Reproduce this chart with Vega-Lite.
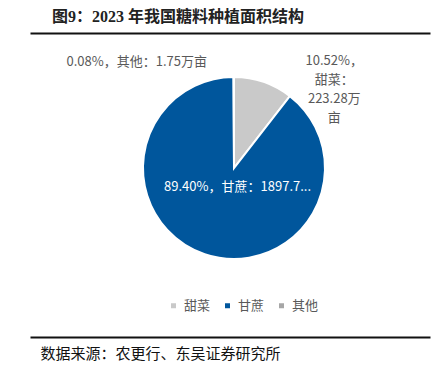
{
  "$schema": "https://vega.github.io/schema/vega-lite/v6.json",
  "width": 408,
  "height": 270,
  "autosize": {"type": "none"},
  "padding": {"left": 30, "top": 33, "right": 0, "bottom": 67},
  "background": "white",
  "config": {"view": {"stroke": null}, "text": {"lineBreak": "\n"}},
  "title": {
    "text": "图9：2023 年我国糖料种植面积结构",
    "anchor": "start",
    "frame": "group",
    "dx": 22,
    "offset": 8,
    "fontSize": 16,
    "fontWeight": "bold",
    "font": "Liberation Serif, Noto Sans CJK SC",
    "color": "#222222"
  },
  "data": {
    "values": [
      {"cat": "甜菜", "rank": 1, "value": 223.28, "label": "10.52%，\n甜菜：\n223.28万\n亩"},
      {"cat": "甘蔗", "rank": 2, "value": 1897.72, "label": "89.40%，甘蔗：1897.7..."},
      {"cat": "其他", "rank": 3, "value": 1.75, "label": "0.08%，其他：1.75万亩"}
    ]
  },
  "layer": [
    {
      "mark": {"type": "point", "opacity": 0},
      "encoding": {
        "x": {
          "field": "value", "type": "quantitative",
          "scale": {"range": [0, 400]},
          "axis": {"orient": "top", "labels": false, "ticks": false, "grid": false, "title": null, "domainColor": "#111111", "domainWidth": 2}
        }
      }
    },
    {
      "mark": {"type": "point", "opacity": 0},
      "encoding": {
        "x": {
          "field": "value", "type": "quantitative",
          "scale": {"range": [0, 400]},
          "axis": {
            "orient": "bottom", "offset": 34, "labels": false, "ticks": false, "grid": false,
            "domainColor": "#111111", "domainWidth": 2,
            "title": "数据来源：农更行、东吴证券研究所",
            "titleX": 10, "titleY": 16, "titleAlign": "left", "titleBaseline": "middle",
            "titleFont": "Noto Sans CJK SC", "titleFontSize": 15, "titleFontWeight": "normal", "titleColor": "#111111"
          }
        }
      }
    },
    {
      "mark": {"type": "arc", "outerRadius": 91, "stroke": "white", "strokeWidth": 2},
      "encoding": {
        "theta": {"field": "value", "type": "quantitative", "stack": true},
        "order": {"field": "rank", "type": "quantitative"},
        "color": {
          "field": "cat", "type": "nominal",
          "sort": ["甜菜", "甘蔗", "其他"],
          "scale": {"domain": ["甜菜", "甘蔗", "其他"], "range": ["#C9C9C9", "#00569C", "#A6A6A6"]},
          "legend": {
            "title": null, "orient": "none", "direction": "horizontal",
            "legendX": 137, "legendY": 266, "padding": 0,
            "symbolType": "square", "symbolSize": 25, "symbolStrokeWidth": 0,
            "labelFont": "Noto Sans CJK SC", "labelFontSize": 13, "labelColor": "#595959",
            "labelOffset": 4, "columnPadding": 10
          }
        }
      }
    },
    {
      "mark": {"type": "text", "radius": 84, "dx": 73, "dy": -28, "align": "center", "baseline": "middle", "lineHeight": 19, "font": "Noto Sans CJK SC", "fontSize": 13, "color": "#595959"},
      "encoding": {
        "theta": {"field": "value", "type": "quantitative", "stack": true},
        "order": {"field": "rank", "type": "quantitative"},
        "text": {"condition": {"test": "datum.cat === '甜菜'", "field": "label"}, "value": ""}
      }
    },
    {
      "mark": {"type": "text", "radius": 106, "dx": -97, "align": "center", "baseline": "middle", "font": "Noto Sans CJK SC", "fontSize": 13, "color": "#595959"},
      "encoding": {
        "theta": {"field": "value", "type": "quantitative", "stack": true},
        "order": {"field": "rank", "type": "quantitative"},
        "text": {"condition": {"test": "datum.cat === '其他'", "field": "label"}, "value": ""}
      }
    },
    {
      "mark": {"type": "text", "radius": 20, "dx": 10, "align": "center", "baseline": "middle", "font": "Noto Sans CJK SC", "fontSize": 13, "color": "white"},
      "encoding": {
        "theta": {"field": "value", "type": "quantitative", "stack": true},
        "order": {"field": "rank", "type": "quantitative"},
        "text": {"condition": {"test": "datum.cat === '甘蔗'", "field": "label"}, "value": ""}
      }
    }
  ],
  "resolve": {"scale": {"x": "independent"}, "axis": {"x": "independent"}}
}
